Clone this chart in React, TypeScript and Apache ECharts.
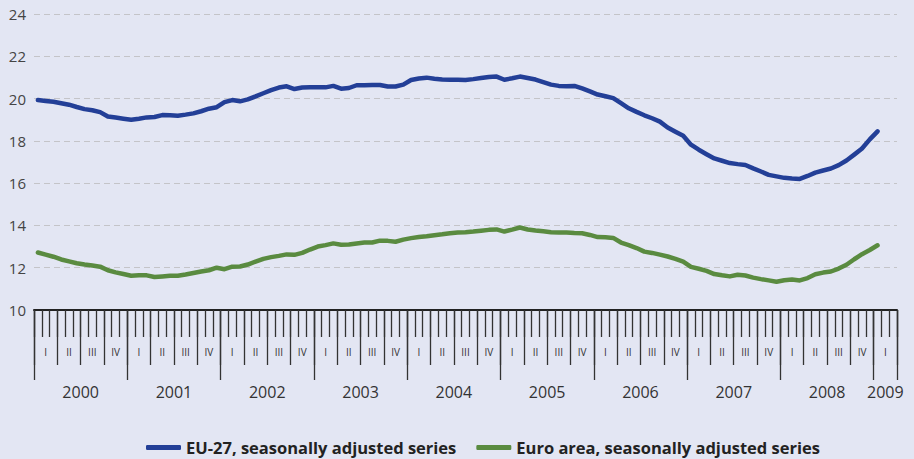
import React, { useEffect, useRef } from "react";
import * as echarts from "echarts";

const years = ["2000", "2001", "2002", "2003", "2004", "2005", "2006", "2007", "2008", "2009"];
const quarterLabels = ["I", "II", "III", "IV"];
const monthCount = 111; // Jan 2000 .. Mar 2009
const yTicks = { min: 10, max: 24, interval: 2 };

const eu27 = [
  19.93, 19.89, 19.85, 19.78, 19.71, 19.6, 19.5, 19.45, 19.36, 19.15, 19.1, 19.05,
  19.0, 19.05, 19.11, 19.13, 19.22, 19.21, 19.19, 19.24, 19.3, 19.4, 19.52, 19.59,
  19.83, 19.93, 19.87, 19.96, 20.1, 20.25, 20.4, 20.52, 20.58, 20.45, 20.52, 20.53,
  20.53, 20.53, 20.6, 20.47, 20.5, 20.63, 20.63, 20.64, 20.64, 20.57, 20.57, 20.66,
  20.88, 20.95, 20.99, 20.94, 20.9, 20.89, 20.89, 20.88, 20.92, 20.97, 21.02, 21.04,
  20.89, 20.96, 21.04, 20.97, 20.9, 20.78, 20.66, 20.6, 20.58, 20.6, 20.48, 20.34,
  20.19, 20.11, 20.02, 19.78, 19.54, 19.37, 19.21, 19.07, 18.91, 18.63, 18.43, 18.24,
  17.82, 17.58, 17.37, 17.17, 17.06, 16.95, 16.9, 16.86, 16.7, 16.55, 16.39, 16.32,
  16.25, 16.22, 16.2, 16.34, 16.5, 16.6, 16.69, 16.85, 17.07, 17.35, 17.64, 18.07,
  18.45,
];

const euroArea = [
  12.72, 12.62, 12.52, 12.39, 12.3, 12.21, 12.15, 12.1, 12.05, 11.88, 11.78, 11.7,
  11.62, 11.64, 11.64, 11.56, 11.59, 11.62, 11.62, 11.68, 11.75, 11.82, 11.88, 12.0,
  11.93, 12.05, 12.06, 12.15, 12.29, 12.42, 12.5, 12.56, 12.63, 12.61, 12.7, 12.86,
  13.0, 13.07, 13.15, 13.09, 13.1, 13.15, 13.19, 13.19, 13.28, 13.27, 13.23, 13.33,
  13.4, 13.45, 13.49, 13.54, 13.58, 13.63, 13.66, 13.68, 13.71, 13.75, 13.79, 13.81,
  13.71, 13.8, 13.9, 13.81, 13.76, 13.72, 13.68, 13.67, 13.66, 13.64, 13.63, 13.55,
  13.45, 13.44, 13.41, 13.19, 13.07, 12.93, 12.76, 12.7, 12.62, 12.53, 12.42, 12.29,
  12.04, 11.95, 11.85, 11.7, 11.64, 11.59, 11.67, 11.63, 11.53, 11.46, 11.4, 11.34,
  11.41, 11.44, 11.4, 11.51, 11.69, 11.77, 11.82, 11.96, 12.14, 12.4, 12.64, 12.84,
  13.06,
];

const seriesNames = ["EU-27, seasonally adjusted series", "Euro area, seasonally adjusted series"];
const seriesColors = ["#233f97", "#5a8b40"];

const monthCategories: string[] = [];
for (let i = 0; i < monthCount; i++) {
  monthCategories.push(years[Math.floor(i / 12)] + "-" + String((i % 12) + 1).padStart(2, "0"));
}

const quarterTicks: number[] = [];
const quarterLabelPos: number[] = [];
for (let q = 0; q * 3 <= monthCount; q++) {
  quarterTicks.push(q * 3);
  if (q * 3 < monthCount) quarterLabelPos.push(q * 3 + 1.5);
}
const yearTicks: number[] = [];
const yearLabelPos: number[] = [];
years.forEach((_, k) => {
  const s = k * 12;
  const e = Math.min((k + 1) * 12, monthCount);
  yearTicks.push(s);
  yearLabelPos.push((s + e) / 2);
});
yearTicks.push(monthCount);

const FONT = "'Open Sans', 'Noto Sans', sans-serif";
const TICK_COLOR = "#333";

export default function App() {
  const ref = useRef<HTMLDivElement>(null);
  useEffect(() => {
    if (!ref.current) return;
    const chart = echarts.init(ref.current, null, { renderer: "svg" });
    const valueAxisBase = {
      type: "value",
      min: 0,
      max: monthCount,
      position: "bottom",
      offset: 0,
      gridIndex: 0,
      axisLine: { show: false },
      splitLine: { show: false },
    };
    chart.setOption({
      animation: false,
      backgroundColor: "#e3e6f3",
      grid: { left: 34, right: 17, top: 14, bottom: 149, containLabel: false },
      xAxis: [
        {
          type: "category",
          data: monthCategories,
          boundaryGap: true,
          position: "bottom",
          z: 5,
          axisLine: { show: true, lineStyle: { color: "#222", width: 2 } },
          axisTick: { show: true, interval: 0, length: 27, lineStyle: { color: TICK_COLOR, width: 1.3 } },
          axisLabel: { show: false },
          splitLine: { show: false },
        },
        {
          ...valueAxisBase,
          axisTick: { show: true, customValues: quarterTicks, length: 55, lineStyle: { color: TICK_COLOR, width: 1.3 } },
          axisLabel: {
            show: true,
            customValues: quarterLabelPos,
            margin: 37,
            fontSize: 10,
            color: "#333",
            fontFamily: FONT,
            formatter: (v: number) => quarterLabels[Math.floor(v / 3) % 4],
          },
        },
        {
          ...valueAxisBase,
          axisTick: { show: true, customValues: yearTicks, length: 70, lineStyle: { color: TICK_COLOR, width: 1.3 } },
          axisLabel: {
            show: true,
            customValues: yearLabelPos,
            margin: 74,
            fontSize: 16,
            color: "#333",
            fontFamily: FONT,
            formatter: (v: number) => years[Math.floor(v / 12)],
          },
        },
      ],
      yAxis: {
        type: "value",
        min: yTicks.min,
        max: yTicks.max,
        interval: yTicks.interval,
        axisLine: { show: false },
        axisTick: { show: false },
        axisLabel: { margin: 8, fontSize: 15, color: "#444", fontFamily: FONT },
        splitLine: {
          show: true,
          showMinLine: false,
          lineStyle: { color: "#c4c4c8", width: 1.2, type: [6, 4] },
        },
      },
      legend: {
        left: 141,
        top: 434,
        itemWidth: 35,
        itemHeight: 5,
        itemGap: 20,
        icon: "roundRect",
        textStyle: { fontFamily: FONT, fontWeight: "bold", fontSize: 16.5, color: "#222" },
        data: seriesNames,
      },
      series: [
        {
          name: seriesNames[0],
          type: "line",
          data: eu27,
          showSymbol: false,
          color: seriesColors[0],
          lineStyle: { width: 4.5, color: seriesColors[0], cap: "round", join: "round" },
        },
        {
          name: seriesNames[1],
          type: "line",
          data: euroArea,
          showSymbol: false,
          color: seriesColors[1],
          lineStyle: { width: 4.5, color: seriesColors[1], cap: "round", join: "round" },
        },
      ],
    });
    return () => chart.dispose();
  }, []);
  return (
    <div
      ref={ref}
      style={{ position: "fixed", left: 0, top: 0, width: 914, height: 459 }}
    />
  );
}
